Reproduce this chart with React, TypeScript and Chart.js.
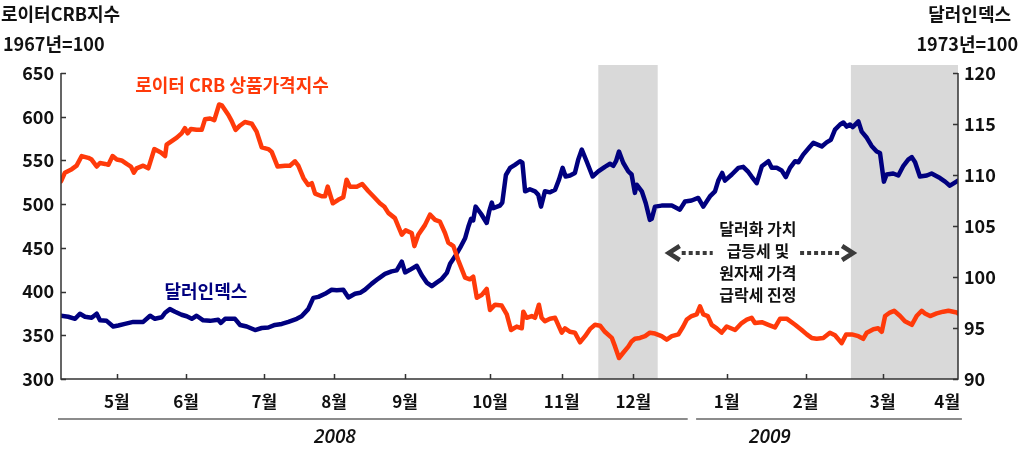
import React, { useEffect, useRef } from "react";
import { Chart, registerables } from "chart.js";

Chart.register(...registerables);

// ---- data (x = trading-session index, 0..299) ----
const crbSeries: [number, number][] = [
  [0, 526], [1.3, 536], [3.6, 540], [5.2, 544], [6.9, 555], [9.1, 553], [10.2, 551], [11.9, 543],
  [13, 547], [14.7, 546], [15.8, 545], [17.2, 555], [18.6, 551], [20.2, 550], [21.9, 546], [23.3, 543],
  [24.3, 536], [25.2, 541], [27.4, 544], [29.1, 541], [31.1, 563], [33.3, 559], [34.7, 555], [35.2, 568],
  [36.9, 572], [38.6, 576], [40.2, 581], [41.3, 587], [42.2, 581], [43.3, 586], [45.2, 585], [46.9, 585],
  [48, 597], [49.7, 598], [51.1, 596], [52.7, 614], [53.6, 613], [55.8, 602], [56.9, 595], [58.2, 585],
  [59.7, 590], [61.3, 594], [63.6, 592], [65.2, 583], [66.9, 565], [69.1, 563], [70.2, 560], [72.2, 543],
  [74.7, 544], [76.3, 544], [78, 549], [79.1, 544], [80.8, 530], [82.4, 522], [83.6, 524], [84.7, 512],
  [86.9, 509], [88, 509], [88.9, 520], [90.6, 501], [92.4, 505], [94.1, 508], [95.2, 528], [96.3, 520],
  [98.6, 520], [100.4, 523], [102.4, 515], [104.1, 509], [106.3, 501], [107.8, 497], [109.1, 490], [111.3, 484],
  [113.6, 465], [114.9, 470], [116.9, 467], [117.8, 452], [119.1, 465], [121.3, 476], [123, 488], [124.7, 482],
  [126.3, 480], [128, 467], [129.1, 456], [130.8, 452], [132.4, 436], [134.7, 416], [136.3, 414], [137.4, 417],
  [138.6, 393], [140.2, 396], [141.9, 403], [143, 379], [144.7, 385], [146.9, 384], [148.6, 374], [150, 356],
  [151.9, 360], [153.6, 358], [154.1, 377], [155.2, 370], [156.9, 372], [158, 370], [159.3, 385], [160.2, 370],
  [161.3, 366], [163, 369], [164.7, 370], [166.9, 353], [168, 358], [169.7, 354], [171.3, 353], [173, 342],
  [174.7, 349], [176.3, 357], [178, 362], [179.7, 361], [181.3, 354], [183.6, 347], [184.7, 337], [186, 324],
  [187.4, 330], [189.1, 337], [190.2, 343], [191.3, 346], [193, 347], [194.7, 349], [196.3, 353], [198, 352],
  [200.2, 349], [201.9, 345], [203.6, 349], [205.8, 351], [207.4, 360], [208.6, 368], [210.2, 372], [211.9, 374],
  [213, 383], [214.1, 374], [215.6, 372], [216.9, 362], [218.6, 358], [220.2, 353], [221.9, 360], [224.7, 356],
  [226.9, 364], [228.6, 368], [230.2, 370], [231.3, 364], [233.6, 365], [235.8, 362], [238, 359], [239.7, 369],
  [241.9, 369], [244.7, 362], [246.9, 356], [248.6, 351], [250.2, 347], [251.9, 346], [254.1, 347], [256.3, 353],
  [258, 350], [260.2, 341], [261.7, 351], [263.6, 351], [265.8, 349], [267.4, 346], [268.6, 353], [270.8, 357],
  [272.4, 358], [273.6, 354], [274.7, 372], [276.3, 376], [277.7, 378], [279.7, 372], [281.3, 366], [283.6, 362],
  [285.2, 372], [286.9, 378], [288, 375], [289.7, 372], [291.9, 375], [294.1, 377], [295.8, 378], [298.6, 376],
  [299, 375],
];

const dollarSeries: [number, number][] = [
  [0, 96.2], [2.4, 96.1], [4.7, 95.9], [6.3, 96.4], [8, 96.1], [10.2, 96.0], [11.9, 96.4], [13, 95.75],
  [15.2, 95.7], [17.4, 95.15], [19.1, 95.25], [21.3, 95.4], [24.1, 95.6], [27.4, 95.6], [29.7, 96.2], [31.3, 95.9],
  [33.6, 96.05], [34.7, 96.5], [36.3, 96.85], [38, 96.6], [40.2, 96.3], [41.9, 96.15], [43.6, 95.9], [45.2, 96.2],
  [47.4, 95.75], [49.7, 95.7], [52.4, 95.8], [53.3, 95.5], [54.7, 95.9], [58, 95.9], [59.7, 95.3], [61.9, 95.15],
  [64.7, 94.8], [66.9, 95.0], [69.1, 95.05], [71.3, 95.3], [73.6, 95.4], [75.8, 95.6], [78.6, 95.9], [80.2, 96.15],
  [82.4, 96.85], [84.1, 97.95], [85.8, 98.05], [88, 98.35], [90.2, 98.75], [91.9, 98.7], [94.1, 98.75], [95.8, 98.0],
  [98, 98.35], [99.7, 98.45], [101.3, 98.75], [103.6, 99.35], [105.8, 99.85], [108, 100.3], [110.2, 100.55], [111.9, 100.65],
  [113.6, 101.5], [114.7, 100.45], [116.3, 100.7], [118.6, 101.1], [120.2, 100.2], [121.9, 99.45], [123.6, 99.1], [125.2, 99.45],
  [126.9, 99.8], [128.6, 100.4], [129.7, 101.3], [131.3, 102.0], [133, 102.85], [134.7, 103.8], [135.8, 104.95], [136.7, 105.7],
  [137.4, 105.55], [138.2, 106.9], [140, 106.2], [141.9, 105.3], [142.7, 106.4], [143.6, 107.3], [144.1, 106.75], [146.3, 107.0],
  [147.1, 107.3], [148.3, 110.0], [149.7, 110.7], [151.3, 111.0], [153, 111.35], [153.8, 111.2], [154.7, 108.4], [156.3, 108.6],
  [158, 108.4], [159.1, 108.05], [160, 106.9], [161.3, 108.4], [163, 108.3], [164.7, 108.55], [166, 109.55], [167.2, 110.7],
  [168.2, 109.85], [169.7, 109.95], [171.3, 110.2], [172.4, 111.5], [173.6, 112.5], [175.2, 111.35], [177.2, 109.85], [179.1, 110.35],
  [181.3, 110.8], [183, 111.1], [184.1, 110.9], [185, 111.35], [186, 112.3], [187.4, 111.2], [189.1, 110.35], [190.2, 110.05],
  [191.3, 108.25], [191.9, 109.05], [193.6, 108.4], [194.9, 107.25], [196.3, 105.6], [196.9, 105.7], [198, 106.9], [200.2, 107.0],
  [203.6, 107.0], [206.3, 106.6], [208, 107.4], [210.2, 107.5], [212.4, 107.75], [214.1, 106.9], [216.3, 107.9], [218, 108.4],
  [219.1, 109.45], [220.4, 110.2], [221.3, 109.45], [223.6, 110.05], [225.8, 110.7], [227.4, 110.8], [229.1, 110.3], [230.2, 109.85],
  [231.9, 109.2], [233.6, 110.85], [235.8, 111.35], [236.9, 110.7], [238.6, 110.7], [240.2, 110.45], [241.6, 109.8], [243, 110.7],
  [244.7, 111.35], [245.8, 111.25], [247.4, 112.0], [249.7, 112.8], [250.8, 113.15], [252.4, 112.95], [253.6, 112.8], [255.2, 113.2],
  [256.6, 113.45], [258, 114.45], [259.7, 114.95], [260.8, 115.15], [261.9, 114.75], [263, 114.95], [263.9, 114.7], [265.8, 115.25],
  [266.9, 114.25], [268.6, 113.65], [270.2, 112.85], [271.9, 112.3], [273, 112.15], [274.3, 109.35], [275.2, 110.05], [277.4, 110.15],
  [279.1, 109.95], [280.8, 110.9], [282.4, 111.5], [283.6, 111.75], [284.7, 111.25], [286.3, 109.85], [288.6, 109.95], [290.2, 110.15],
  [293, 109.7], [294.7, 109.35], [296.3, 108.95], [297.4, 109.15], [299, 109.45],
];

const monthTicks = [18.6, 41.7, 67.8, 91, 114.7, 143, 166.9, 190.8, 221.9, 248.2, 273.9, 295.4];
const monthLabels = ["5월", "6월", "7월", "8월", "9월", "10월", "11월", "12월", "1월", "2월", "3월", "4월"];
const tickMarkCount = 11; // the last label (4월) has no tick mark
const shadedPeriods: [number, number][] = [[179.1, 198.9], [263.3, 299]];
const yearNames = ["2008", "2009"];
const yearRanges: [number, number][] = [[-1, 208.9], [211.7, 300.3]];
const yearLabelAt = [91.3, 236.3];
const annotationLines = ["달러화 가치", "급등세 및", "원자재 가격", "급락세 진정"];

const FONT = "'Noto Sans CJK KR', 'Noto Sans', sans-serif";
const ORANGE = "#FF3A0A";
const NAVY = "#00007F";

export default function App() {
  const canvasRef = useRef<HTMLCanvasElement | null>(null);

  useEffect(() => {
    const canvas = canvasRef.current;
    if (!canvas) return;

    const decor = {
      id: "decor",
      beforeDatasetsDraw(chart: any) {
        const { ctx, chartArea } = chart;
        const x = chart.scales.x;
        ctx.save();
        ctx.fillStyle = "#D9D9D9";
        shadedPeriods.forEach(([a, b]) => {
          const x0 = x.getPixelForValue(a);
          const x1 = x.getPixelForValue(b);
          ctx.fillRect(x0, chartArea.top - 8, x1 - x0, chartArea.bottom - chartArea.top + 8);
        });
        ctx.restore();
      },
      afterDraw(chart: any) {
        const { ctx, chartArea } = chart;
        const x = chart.scales.x;
        const yL = chart.scales.y;
        const yR = chart.scales.y1;
        ctx.save();
        ctx.strokeStyle = "#333";
        ctx.lineWidth = 1.5;
        ctx.beginPath();
        ctx.moveTo(chartArea.left, chartArea.top);
        ctx.lineTo(chartArea.left, chartArea.bottom);
        ctx.lineTo(chartArea.right, chartArea.bottom);
        ctx.lineTo(chartArea.right, chartArea.top);
        ctx.stroke();
        ctx.beginPath();
        yL.ticks.forEach((t: any) => {
          const py = Math.round(yL.getPixelForValue(t.value)) + 0.5;
          ctx.moveTo(chartArea.left, py);
          ctx.lineTo(chartArea.left + 5, py);
        });
        yR.ticks.forEach((t: any) => {
          const py = Math.round(yR.getPixelForValue(t.value)) + 0.5;
          ctx.moveTo(chartArea.right, py);
          ctx.lineTo(chartArea.right - 5, py);
        });
        monthTicks.slice(0, tickMarkCount).forEach((v) => {
          const px = Math.round(x.getPixelForValue(v)) + 0.5;
          ctx.moveTo(px, chartArea.bottom);
          ctx.lineTo(px, chartArea.bottom - 5);
        });
        ctx.stroke();

        ctx.strokeStyle = "#8C8C8C";
        ctx.lineWidth = 2;
        const yearLineY = chartArea.bottom + 40;
        yearRanges.forEach(([a, b]) => {
          ctx.beginPath();
          ctx.moveTo(x.getPixelForValue(a), yearLineY);
          ctx.lineTo(x.getPixelForValue(b), yearLineY);
          ctx.stroke();
        });
        ctx.fillStyle = "#111";
        ctx.font = "italic 600 19px 'Open Sans', sans-serif";
        ctx.textAlign = "center";
        ctx.textBaseline = "middle";
        yearNames.forEach((n, i) => {
          ctx.fillText(n, x.getPixelForValue(yearLabelAt[i]), yearLineY + 19);
        });

        ctx.font = `bold 18px ${FONT}`;
        ctx.textAlign = "left";
        ctx.fillText("로이터CRB지수", 1, 14);
        ctx.fillText("1967년=100", 3, 44);
        ctx.textAlign = "right";
        ctx.fillText("달러인덱스", 1011, 14);
        ctx.fillText("1973년=100", 1018, 44);

        ctx.textAlign = "center";
        ctx.fillStyle = ORANGE;
        ctx.fillText("로이터 CRB 상품가격지수", x.getPixelForValue(57), yL.getPixelForValue(636.5));
        ctx.fillStyle = NAVY;
        ctx.fillText("달러인덱스", x.getPixelForValue(48.3), yL.getPixelForValue(400));

        const cx = x.getPixelForValue(232.3);
        const cy = yR.getPixelForValue(102.6);
        ctx.fillStyle = "#111";
        ctx.font = `bold 16px ${FONT}`;
        const offs = [-21.5, 0, 22, 44];
        annotationLines.forEach((t, i) => ctx.fillText(t, cx, cy + offs[i]));

        const ay = cy + 2.5;
        const leftTip = x.getPixelForValue(201.9);
        const rightTip = x.getPixelForValue(264.7);
        ctx.strokeStyle = "#3A3A3A";
        ctx.lineWidth = 4;
        ctx.setLineDash([4, 3]);
        ctx.beginPath();
        ctx.moveTo(leftTip + 15, ay);
        ctx.lineTo(leftTip + 46, ay);
        ctx.moveTo(rightTip - 55, ay);
        ctx.lineTo(rightTip - 16, ay);
        ctx.stroke();
        ctx.setLineDash([]);
        ctx.lineWidth = 4.5;
        ctx.lineJoin = "miter";
        ctx.beginPath();
        ctx.moveTo(leftTip + 13, ay - 7);
        ctx.lineTo(leftTip + 2, ay);
        ctx.lineTo(leftTip + 13, ay + 7);
        ctx.moveTo(rightTip - 13, ay - 7);
        ctx.lineTo(rightTip - 2, ay);
        ctx.lineTo(rightTip - 13, ay + 7);
        ctx.stroke();
        ctx.restore();
      },
    };

    const chart = new Chart(canvas, {
      type: "line",
      data: {
        datasets: [
          {
            label: "로이터 CRB 상품가격지수",
            data: crbSeries.map(([d, v]) => ({ x: d, y: v })),
            borderColor: ORANGE,
            borderWidth: 4.5,
            pointRadius: 0,
            tension: 0,
            borderJoinStyle: "round",
            borderCapStyle: "round",
            yAxisID: "y",
          },
          {
            label: "달러인덱스",
            data: dollarSeries.map(([d, v]) => ({ x: d, y: v })),
            borderColor: NAVY,
            borderWidth: 4.5,
            pointRadius: 0,
            tension: 0,
            borderJoinStyle: "round",
            borderCapStyle: "round",
            yAxisID: "y1",
          },
        ],
      },
      options: {
        animation: false,
        responsive: false,
        layout: { padding: { top: 73, left: 0, right: 0, bottom: 0 } },
        plugins: { legend: { display: false }, tooltip: { enabled: false } },
        scales: {
          x: {
            type: "linear",
            min: 0,
            max: 299,
            grid: { display: false, drawTicks: false },
            border: { display: false },
            afterBuildTicks: (s: any) => {
              s.ticks = monthTicks.map((v) => ({ value: v }));
            },
            afterFit: (s: any) => {
              s.height = 70;
            },
            ticks: {
              autoSkip: false,
              maxRotation: 0,
              padding: 12,
              color: "#111",
              font: { family: FONT, size: 17, weight: "bold" },
              callback: (_v: any, i: number) => monthLabels[i],
            },
          },
          y: {
            type: "linear",
            position: "left",
            min: 300,
            max: 650,
            grid: { display: false, drawTicks: false },
            border: { display: false },
            afterFit: (s: any) => {
              s.width = 61;
            },
            ticks: {
              stepSize: 50,
              padding: 7,
              color: "#111",
              font: { family: FONT, size: 18, weight: "bold" },
            },
          },
          y1: {
            type: "linear",
            position: "right",
            min: 90,
            max: 120,
            grid: { display: false, drawTicks: false },
            border: { display: false },
            afterFit: (s: any) => {
              s.width = 65;
            },
            ticks: {
              stepSize: 5,
              padding: 6,
              color: "#111",
              font: { family: FONT, size: 18, weight: "bold" },
            },
          },
        },
      },
      plugins: [decor],
    } as any);

    return () => chart.destroy();
  }, []);

  return (
    <div style={{ position: "absolute", left: 0, top: 0, width: 1023, height: 449, background: "#fff" }}>
      <canvas ref={canvasRef} width={1023} height={449} />
    </div>
  );
}
